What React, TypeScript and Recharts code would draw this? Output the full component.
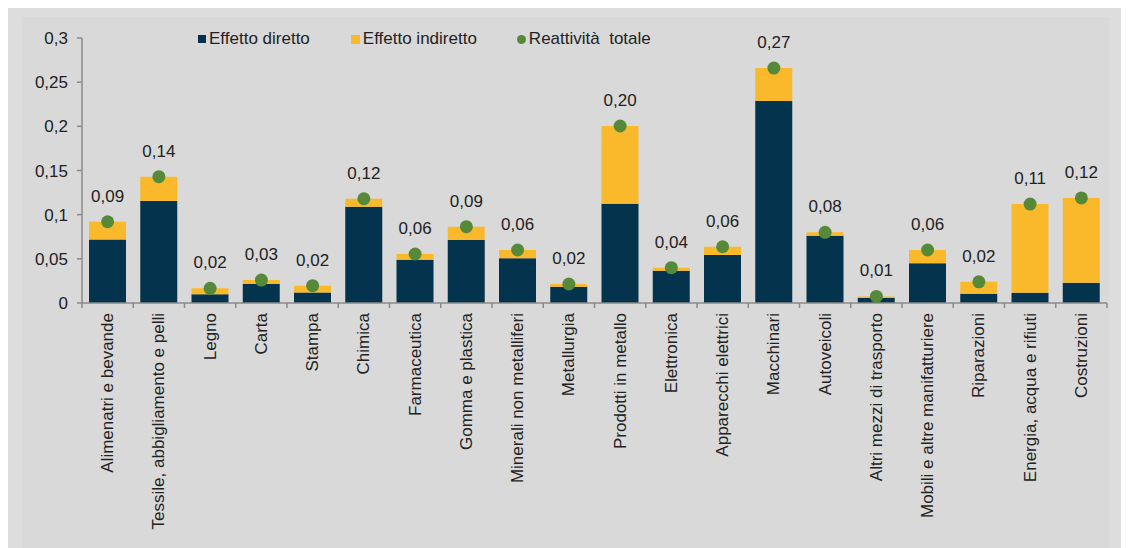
import React from 'react';
import { ComposedChart, Bar, Line, XAxis, YAxis, Legend, LabelList } from 'recharts';

const categories = [
  'Alimenatri e bevande',
  'Tessile, abbigliamento e pelli',
  'Legno',
  'Carta',
  'Stampa',
  'Chimica',
  'Farmaceutica',
  'Gomma e plastica',
  'Minerali non metalliferi',
  'Metallurgia',
  'Prodotti in metallo',
  'Elettronica',
  'Apparecchi elettrici',
  'Macchinari',
  'Autoveicoli',
  'Altri mezzi di trasporto',
  'Mobili e altre manifatturiere',
  'Riparazioni',
  'Energia, acqua e rifiuti',
  'Costruzioni',
];

const direct = [0.072, 0.1155, 0.0098, 0.0215, 0.012, 0.109, 0.049, 0.0713, 0.0506, 0.0185, 0.1124, 0.0366, 0.0543, 0.2287, 0.0762, 0.006, 0.045, 0.0105, 0.0117, 0.023];
const indirect = [0.020, 0.0275, 0.0068, 0.0045, 0.0076, 0.009, 0.0065, 0.0151, 0.0094, 0.003, 0.088, 0.0034, 0.0094, 0.0373, 0.0038, 0.0015, 0.015, 0.0135, 0.1003, 0.096];
const total = [0.092, 0.143, 0.0166, 0.026, 0.0196, 0.118, 0.0555, 0.0864, 0.06, 0.0215, 0.2004, 0.040, 0.0637, 0.266, 0.080, 0.0075, 0.06, 0.024, 0.112, 0.119];

const yTicks = [0, 0.05, 0.1, 0.15, 0.2, 0.25, 0.3];

const seriesNames = ['Effetto diretto', 'Effetto indiretto', 'Reattività  totale'];

const data = categories.map((name, i) => ({
  name,
  direct: direct[i],
  indirect: indirect[i],
  total: total[i],
}));

const DARK = '#04334D';
const YELLOW = '#F9B92A';
const GREEN = '#568A3A';
const AXIS = '#8a8a8a';
const TEXT = '#222222';
const FONT = '"Liberation Sans", Arial, sans-serif';
const FS = 17;

const fmtY = (v: number) => String(v).replace('.', ',');
const fmtLabel = (v: any) => Number(v).toFixed(2).replace('.', ',');

const XTick = (props: any) => {
  const { x, y, payload, index } = props;
  const off = payload && payload.offset ? payload.offset : 0;
  const isLast = index === categories.length - 1;
  return (
    <g>
      <line x1={x - off} x2={x - off} y1={y} y2={y + 5} stroke={AXIS} strokeWidth={1.5} />
      {isLast && <line x1={x + off} x2={x + off} y1={y} y2={y + 5} stroke={AXIS} strokeWidth={1.5} />}
      <text
        x={x}
        y={y + 10}
        transform={`rotate(-90, ${x}, ${y + 10})`}
        textAnchor="end"
        dominantBaseline="central"
        fontSize={FS}
        fontFamily={FONT}
        fill={TEXT}
      >
        {payload.value}
      </text>
    </g>
  );
};

const LegendContent = () => (
  <div style={{ display: 'flex', alignItems: 'center', fontFamily: FONT, fontSize: FS, color: TEXT, whiteSpace: 'nowrap', lineHeight: '20px' }}>
    <span style={{ display: 'inline-block', width: 8, height: 8, background: DARK, marginRight: 3 }} />
    <span>{seriesNames[0]}</span>
    <span style={{ display: 'inline-block', width: 9, height: 9, background: YELLOW, marginLeft: 41, marginRight: 3 }} />
    <span>{seriesNames[1]}</span>
    <span style={{ display: 'inline-block', width: 9, height: 9, borderRadius: '50%', background: GREEN, marginLeft: 40, marginRight: 3 }} />
    <span style={{ whiteSpace: 'pre' }}>{seriesNames[2]}</span>
  </div>
);

export default function App() {
  return (
    <div style={{ position: 'relative', width: 1121, height: 540, background: '#dddddd', overflow: 'hidden' }}>
      <div style={{ position: 'absolute', left: 14, top: 9, width: 1087, height: 540, background: '#d9d9d9' }} />
      <div style={{ position: 'absolute', left: 0, top: 0 }}>
        <ComposedChart
          width={1121}
          height={540}
          data={data}
          margin={{ top: 30, right: 22, left: 0, bottom: 0 }}
          barCategoryGap={0}
        >
          <XAxis
            dataKey="name"
            type="category"
            interval={0}
            height={245}
            tickSize={0}
            tickMargin={0}
            tickLine={false}
            axisLine={{ stroke: AXIS, strokeWidth: 1.5 }}
            tick={<XTick />}
          />
          <YAxis
            type="number"
            domain={[0, 0.3]}
            ticks={yTicks}
            width={74}
            tickFormatter={fmtY}
            tickSize={5}
            tickMargin={9}
            axisLine={{ stroke: AXIS, strokeWidth: 1.5 }}
            tickLine={{ stroke: AXIS, strokeWidth: 1.5 }}
            tick={{ fontSize: FS, fontFamily: FONT, fill: TEXT }}
            interval={0}
          />
          <Legend
            layout="horizontal"
            verticalAlign="middle"
            align="center"
            wrapperStyle={{ top: 21, left: 190, width: 'auto' }}
            content={<LegendContent />}
          />
          <Bar dataKey="direct" name={seriesNames[0]} stackId="a" fill={DARK} barSize={37} isAnimationActive={false} />
          <Bar dataKey="indirect" name={seriesNames[1]} stackId="a" fill={YELLOW} barSize={37} isAnimationActive={false} />
          <Line
            dataKey="total"
            name={seriesNames[2]}
            stroke="none"
            strokeWidth={0}
            dot={{ r: 6.5, fill: GREEN, stroke: 'none' }}
            activeDot={false}
            isAnimationActive={false}
          >
            <LabelList
              dataKey="total"
              position="top"
              offset={20}
              formatter={fmtLabel}
              style={{ fontSize: FS, fontFamily: FONT, fill: TEXT }}
            />
          </Line>
        </ComposedChart>
      </div>
    </div>
  );
}
